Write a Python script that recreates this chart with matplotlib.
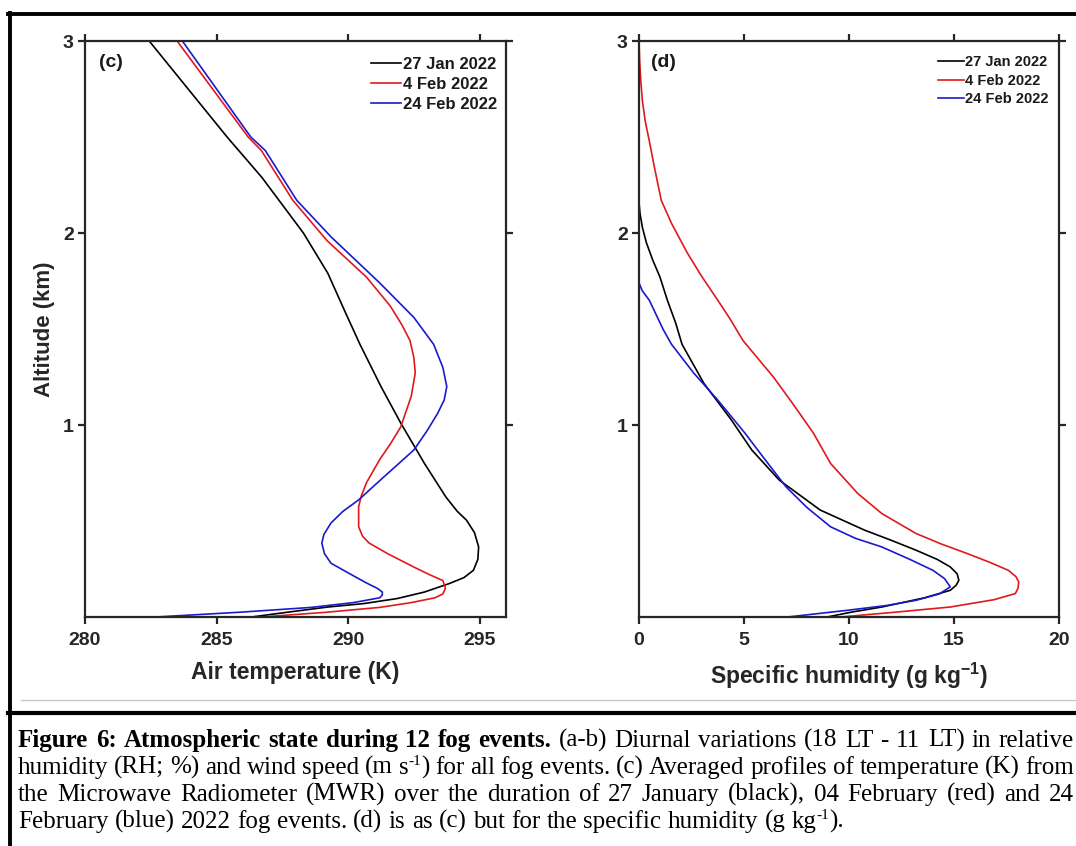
"""
Fog-event profiles from the MWR: (c) air temperature, (d) specific humidity,
with the figure caption underneath. Values read off the published figure.
"""

import matplotlib.pyplot as plt
from matplotlib.lines import Line2D
from matplotlib.transforms import IdentityTransform

# ── DATA ──────────────────────────────────────────────────────────────────────
EVENTS = ['27 Jan 2022', '4 Feb 2022', '24 Feb 2022']
COLORS = ['#000000', '#e0191b', '#1a1acc']

# panel (c): air temperature (K) vs altitude (km)
T_JAN27_K = [282.44, 285.40, 286.72, 288.30, 289.23, 289.85, 290.45, 291.25, 292.00,
             292.90, 293.71, 294.15, 294.50, 294.80, 294.96, 294.93, 294.76, 294.40,
             293.84, 292.90, 291.86, 290.60, 289.23, 287.70, 286.33]
T_JAN27_Z = [3.00, 2.50, 2.29, 2.00, 1.79, 1.60, 1.42, 1.20, 1.01,
             0.80, 0.626, 0.55, 0.504, 0.44, 0.365, 0.30, 0.243, 0.205,
             0.174, 0.13, 0.096, 0.07, 0.052, 0.025, 0.00]

T_FEB04_K = [283.50, 286.20, 286.70, 287.90, 289.20, 290.70, 291.60, 292.05, 292.35,
             292.50, 292.55, 292.40, 292.00, 291.60, 291.20, 290.70, 290.50, 290.40,
             290.40, 290.55, 290.80, 291.50, 292.50, 293.10, 293.60, 293.70, 293.60,
             293.30, 292.40, 291.20, 289.20, 286.70]
T_FEB04_Z = [3.00, 2.50, 2.43, 2.17, 1.96, 1.77, 1.62, 1.52, 1.44,
             1.35, 1.27, 1.15, 0.99, 0.90, 0.82, 0.70, 0.63, 0.575,
             0.47, 0.42, 0.385, 0.33, 0.26, 0.22, 0.19, 0.15, 0.12,
             0.10, 0.075, 0.05, 0.025, 0.00]

T_FEB24_K = [283.70, 286.30, 286.85, 288.05, 289.35, 291.20, 292.50, 293.25, 293.60,
             293.75, 293.65, 293.40, 293.00, 292.50, 291.20, 290.40, 289.80, 289.35,
             289.08, 289.00, 289.10, 289.35, 290.00, 290.70, 291.10, 291.30, 291.30,
             291.20, 290.20, 288.60, 285.90, 282.70]
T_FEB24_Z = [3.00, 2.50, 2.43, 2.17, 1.98, 1.74, 1.56, 1.42, 1.30,
             1.20, 1.13, 1.06, 0.97, 0.87, 0.71, 0.61, 0.55, 0.49,
             0.43, 0.385, 0.33, 0.28, 0.23, 0.177, 0.15, 0.13, 0.115,
             0.10, 0.075, 0.05, 0.025, 0.00]

# panel (d): specific humidity (g/kg) vs altitude (km)
Q_JAN27 = [0.00, 0.00, 0.05, 0.16, 0.35, 0.65, 1.00, 1.35, 1.75, 2.05, 3.09, 4.40,
           5.37, 6.68, 8.63, 10.75, 12.00, 13.19, 14.20, 14.82, 15.15, 15.23, 15.10,
           14.82, 13.60, 11.56, 10.10, 8.96]
Q_JAN27_Z = [3.00, 2.16, 2.10, 2.03, 1.95, 1.86, 1.77, 1.65, 1.53, 1.42, 1.217, 1.026,
             0.87, 0.713, 0.557, 0.452, 0.40, 0.348, 0.30, 0.261, 0.225, 0.191, 0.165,
             0.139, 0.10, 0.052, 0.025, 0.00]

Q_FEB04 = [0.00, 0.03, 0.08, 0.16, 0.30, 0.49, 0.72, 1.06, 1.55, 2.28, 2.95, 3.75,
           4.35, 4.95, 6.40, 7.33, 8.31, 9.12, 10.42, 11.56, 13.19, 14.40, 15.64,
           16.70, 17.59, 17.95, 18.08, 18.05, 17.92, 16.90, 14.82, 12.20, 9.61]
Q_FEB04_Z = [3.00, 2.90, 2.80, 2.69, 2.58, 2.48, 2.35, 2.17, 2.05, 1.90, 1.78, 1.65,
             1.55, 1.44, 1.25, 1.11, 0.957, 0.80, 0.643, 0.539, 0.435, 0.38, 0.33,
             0.285, 0.243, 0.21, 0.183, 0.15, 0.122, 0.09, 0.052, 0.025, 0.00]

Q_FEB24 = [0.00, 0.00, 0.15, 0.49, 1.14, 1.55, 2.61, 3.75, 5.05, 6.00, 7.00, 8.00,
           9.12, 10.30, 11.56, 12.90, 14.00, 14.55, 14.82, 14.30, 13.19, 11.80,
           9.93, 8.30, 7.08]
Q_FEB24_Z = [3.00, 1.74, 1.70, 1.65, 1.50, 1.42, 1.27, 1.13, 0.957, 0.82, 0.678, 0.57,
             0.47, 0.41, 0.365, 0.30, 0.243, 0.20, 0.157, 0.12, 0.087, 0.06,
             0.035, 0.015, 0.00]

TEMP_TICKS = [280, 285, 290, 295]
HUM_TICKS = [0, 5, 10, 15, 20]
ALT_TICKS = [1, 2, 3]

# caption: (text, style) segments per line; style is bold / normal / sup
CAPTION_LINES = [
    [('Figure 6: Atmospheric state during 12 fog events.', 'bold'),
     (' (a-b) Diurnal variations (18 LT - 11 LT) in relative', 'normal')],
    [('humidity (RH; %) and wind speed (m s', 'normal'), ('-1', 'sup'),
     (') for all fog events. (c) Averaged profiles of temperature (K) from', 'normal')],
    [('the Microwave Radiometer (MWR) over the duration of 27 January (black), '
      '04 February (red) and 24', 'normal')],
    [('February (blue) 2022 fog events. (d) is as (c) but for the specific '
      'humidity (g kg', 'normal'), ('-1', 'sup'), (').', 'normal')],
]
CAPTION_JUSTIFY = [True, True, True, False]

# ── LAYOUT (pixels) ──────────────────────────────────────────────────────────
W, H = 1076, 846
SPINE = '#262626'

plt.rcParams['font.family'] = 'Liberation Sans'
plt.rcParams['font.weight'] = 'bold'
plt.rcParams['axes.labelweight'] = 'bold'
plt.rcParams['mathtext.fontset'] = 'custom'
plt.rcParams['mathtext.rm'] = 'Liberation Sans:bold'
plt.rcParams['mathtext.default'] = 'rm'


def px_axes(fig, left, right, top, bottom):
    return fig.add_axes([left / W, 1 - bottom / H, (right - left) / W, (bottom - top) / H])


def style_axes(ax, xlim, xticks):
    ax.set_xlim(*xlim)
    ax.set_ylim(0, 3)
    ax.set_xticks(xticks)
    ax.set_yticks(ALT_TICKS)
    for sp in ax.spines.values():
        sp.set_linewidth(1.6)
        sp.set_color(SPINE)
    ax.tick_params(direction='out', length=5, width=1.6, color=SPINE,
                   top=True, right=True, labeltop=False, labelright=False,
                   labelsize=14, labelcolor='#262626')
    ax.tick_params(axis='x', pad=6)
    ax.tick_params(axis='y', pad=3)


def draw_profiles(ax, series, legend_size, anchor, spacing):
    for (x, z), label, color in zip(series, EVENTS, COLORS):
        ax.plot(x, z, color=color, linewidth=1.2, label=label)
    leg = ax.legend(loc='upper right', bbox_to_anchor=anchor, frameon=False,
                    fontsize=legend_size, handlelength=1.8, handletextpad=0.1,
                    labelspacing=spacing, borderpad=0, borderaxespad=0)
    for t in leg.get_texts():
        t.set_color('#1a1a1a')


fig = plt.figure(figsize=(W / 100, H / 100), dpi=100)

ax_c = px_axes(fig, 85, 506, 41, 617)
style_axes(ax_c, (280, 296), TEMP_TICKS)
draw_profiles(ax_c, [(T_JAN27_K, T_JAN27_Z), (T_FEB04_K, T_FEB04_Z), (T_FEB24_K, T_FEB24_Z)],
              12, (0.978, 0.972), 0.3)
ax_c.text(0.062, 0.962, '(c)', transform=ax_c.transAxes, fontsize=14,
          ha='center', va='center', color='#1a1a1a')
ax_c.set_xlabel('Air temperature (K)', fontsize=16.5, color='#262626')
ax_c.xaxis.set_label_coords(0.5, -0.076)
ax_c.set_ylabel('Altitude (km)', fontsize=16, color='#262626')
ax_c.yaxis.set_label_coords(-0.072, 0.5)

ax_d = px_axes(fig, 639, 1059, 41, 617)
style_axes(ax_d, (0, 20), HUM_TICKS)
draw_profiles(ax_d, [(Q_JAN27, Q_JAN27_Z), (Q_FEB04, Q_FEB04_Z), (Q_FEB24, Q_FEB24_Z)],
              10.5, (0.976, 0.975), 0.3)
ax_d.text(0.057, 0.962, '(d)', transform=ax_d.transAxes, fontsize=14,
          ha='center', va='center', color='#1a1a1a')
ax_d.set_xlabel('Specific humidity (g kg$^{-1}$)', fontsize=16.5, color='#262626')
ax_d.xaxis.set_label_coords(0.5, -0.076)


# ── frame lines round figure and caption ─────────────────────────────────────
def hline(y, x0, x1, lw, color):
    fig.add_artist(Line2D([x0 / W, x1 / W], [1 - y / H, 1 - y / H],
                          transform=fig.transFigure, lw=lw, color=color))


hline(14, 8, W, 2.8, 'black')
hline(699.5, 21, W, 0.9, '#c4c4c4')
hline(712.5, 8, W, 3.0, 'black')
fig.add_artist(Line2D([10 / W, 10 / W], [0, 1 - 12.6 / H],
                      transform=fig.transFigure, lw=2.8, color='black'))

# ── caption, justified word by word ──────────────────────────────────────────
CAP_SIZE = 18
SUP_SIZE = 11
CAP_LEFT, CAP_RIGHT = 18, 1074
BASELINES = [747, 774, 801, 828]


def split_words(segments):
    words = []
    for text, style in segments:
        if style == 'sup':
            words[-1].append((text, style))
            continue
        pieces = text.split(' ')
        for i, p in enumerate(pieces):
            if i == 0 and words and p:
                words[-1].append((p, style))
            elif p:
                words.append([(p, style)])
    return words


fig.canvas.draw()
renderer = fig.canvas.get_renderer()

for segments, justify, base in zip(CAPTION_LINES, CAPTION_JUSTIFY, BASELINES):
    words = split_words(segments)
    placed = []
    widths = []
    for word in words:
        parts = []
        total = 0
        for text, style in word:
            t = fig.text(0, 0, text, transform=IdentityTransform(),
                         family='Liberation Serif',
                         weight='bold' if style == 'bold' else 'normal',
                         fontsize=SUP_SIZE if style == 'sup' else CAP_SIZE,
                         va='baseline', ha='left', color='black')
            w = t.get_window_extent(renderer).width
            parts.append((t, style, total))
            total += w
        placed.append(parts)
        widths.append(total)
    if justify:
        gap = (CAP_RIGHT - CAP_LEFT - sum(widths)) / (len(words) - 1)
    else:
        gap = CAP_SIZE * 100 / 72 * 0.25
    x = CAP_LEFT
    for parts, w in zip(placed, widths):
        for t, style, off in parts:
            y = H - base + (9 if style == 'sup' else 0)
            t.set_position((x + off, y))
        x += w + gap

fig.savefig('out.png', dpi=100)
